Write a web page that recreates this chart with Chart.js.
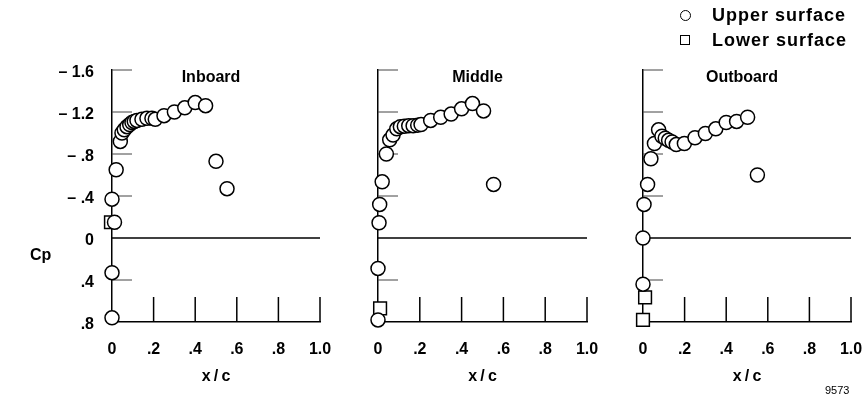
<!DOCTYPE html>
<html>
<head>
<meta charset="utf-8">
<script src="https://cdn.jsdelivr.net/npm/chart.js@4.4.1/dist/chart.umd.min.js"></script>
<style>
  body { margin: 0; background: #fff; }
  #wrap { position: relative; width: 868px; height: 398px; font-family: 'Liberation Sans', Arial, sans-serif; color: #000; }
  canvas { position: absolute; top: 0; }
  .txt { position: absolute; font-weight: bold; font-size: 16px; line-height: 20px; white-space: nowrap; }
  .leg { font-size: 18px; letter-spacing: 1px; }
  .mk { position: absolute; width: 10px; height: 10px; border: 1.5px solid #000; box-sizing: border-box; }
</style>
</head>
<body>
<div id="wrap">
  <canvas id="inboard" width="340" height="398" style="left:0px"></canvas>
  <canvas id="middle" width="265" height="398" style="left:340px"></canvas>
  <canvas id="outboard" width="263" height="398" style="left:605px"></canvas>

  <div class="mk" style="left:680px; top:10px; border-radius:50%; width:11px; height:11px"></div>
  <div class="txt leg" style="left:712px; top:5px">Upper surface</div>
  <div class="mk" style="left:680px; top:35px"></div>
  <div class="txt leg" style="left:712px; top:30px">Lower surface</div>
  <div class="txt" style="left:30px; top:245px">Cp</div>
  <div class="txt" style="left:825px; top:380px; font-weight:normal; font-size:11px">9573</div>
</div>
<script>
// axis ticks
const xTicks = [0, 0.2, 0.4, 0.6, 0.8, 1.0];
const xLabels = ['0', '.2', '.4', '.6', '.8', '1.0'];
const cpTicks = [-1.6, -1.2, -0.8, -0.4, 0, 0.4, 0.8];
const cpLabels = ['\u2013 1.6', '\u2013 1.2', '\u2013 .8', '\u2013 .4', '0', '.4', '.8'];
const panelNames = ['Inboard', 'Middle', 'Outboard'];

// Inboard
const inboardUpperX  = [0, 0, 0.012, 0, 0.02, 0.04, 0.048, 0.059, 0.072, 0.085, 0.096, 0.107, 0.12, 0.144, 0.168, 0.192, 0.208, 0.25, 0.30, 0.35, 0.40, 0.45, 0.50, 0.553];
const inboardUpperCp = [0.76, 0.33, -0.15, -0.37, -0.65, -0.92, -1.0, -1.03, -1.06, -1.08, -1.10, -1.11, -1.12, -1.13, -1.14, -1.14, -1.13, -1.165, -1.20, -1.24, -1.29, -1.26, -0.73, -0.47];
const inboardLowerX  = [-0.005];
const inboardLowerCp = [-0.15];

// Middle
const middleUpperX  = [0, 0, 0.005, 0.008, 0.02, 0.04, 0.056, 0.072, 0.09, 0.107, 0.126, 0.147, 0.168, 0.19, 0.206, 0.252, 0.30, 0.35, 0.40, 0.452, 0.505, 0.553];
const middleUpperCp = [0.78, 0.29, -0.145, -0.32, -0.535, -0.80, -0.935, -0.98, -1.04, -1.06, -1.065, -1.07, -1.07, -1.075, -1.08, -1.12, -1.15, -1.18, -1.23, -1.28, -1.21, -0.51];
const middleLowerX  = [0.01];
const middleLowerCp = [0.67];

// Outboard
const outboardUpperX  = [0, 0, 0.005, 0.022, 0.038, 0.055, 0.075, 0.091, 0.107, 0.123, 0.14, 0.16, 0.199, 0.25, 0.30, 0.35, 0.40, 0.45, 0.503, 0.55];
const outboardUpperCp = [0.44, 0.0, -0.32, -0.51, -0.755, -0.90, -1.03, -0.97, -0.95, -0.93, -0.915, -0.89, -0.90, -0.955, -0.995, -1.04, -1.10, -1.11, -1.15, -0.60];
const outboardLowerX  = [0, 0.01];
const outboardLowerCp = [0.78, 0.565];

const FONT = "'Liberation Sans', Arial, sans-serif";

function pts(xs, ys) {
  return xs.map((x, i) => ({ x: x, y: ys[i] }));
}

// zero line, inward tick marks and the panel name
const panelMarks = {
  id: 'panelMarks',
  beforeDatasetsDraw(chart, args, opts) {
    const { ctx, chartArea: a, scales: { x, y } } = chart;
    ctx.save();
    ctx.strokeStyle = '#000';
    ctx.lineWidth = 1.5;
    const y0 = y.getPixelForValue(0);
    ctx.beginPath();
    ctx.moveTo(a.left, y0);
    ctx.lineTo(x.getPixelForValue(1), y0);
    ctx.stroke();
    xTicks.slice(1).forEach(v => {
      const px = x.getPixelForValue(v);
      ctx.beginPath();
      ctx.moveTo(px, a.bottom);
      ctx.lineTo(px, a.bottom - 25);
      ctx.stroke();
    });
    ctx.lineWidth = 1;
    ctx.strokeStyle = '#444';
    [-1.6, -1.2, -0.8, -0.4, 0.4].forEach(v => {
      const py = y.getPixelForValue(v);
      ctx.beginPath();
      ctx.moveTo(a.left, py);
      ctx.lineTo(a.left + 20, py);
      ctx.stroke();
    });
    ctx.fillStyle = '#000';
    ctx.font = 'bold 16px ' + FONT;
    ctx.textAlign = 'center';
    ctx.textBaseline = 'middle';
    ctx.fillText(opts.title, (a.left + a.right) / 2 - 5, 78);
    ctx.restore();
  }
};

function makePanel(id, name, upX, upCp, loX, loCp, showY, yWidth, padRight) {
  new Chart(document.getElementById(id), {
    type: 'scatter',
    data: {
      datasets: [
        {
          label: 'Upper surface',
          data: pts(upX, upCp),
          pointStyle: 'circle',
          pointRadius: 7,
          pointBorderWidth: 1.5,
          borderColor: '#000',
          backgroundColor: '#fff',
          clip: false
        },
        {
          label: 'Lower surface',
          data: pts(loX, loCp),
          pointStyle: 'rect',
          pointRadius: 9,
          pointBorderWidth: 1.5,
          borderColor: '#000',
          backgroundColor: '#fff',
          clip: false
        }
      ]
    },
    options: {
      responsive: false,
      animation: false,
      layout: { padding: { top: 70, right: padRight, left: 0, bottom: 0 } },
      plugins: {
        legend: { display: false },
        tooltip: { enabled: false },
        panelMarks: { title: name }
      },
      scales: {
        x: {
          type: 'linear',
          min: 0,
          max: 1,
          afterBuildTicks: s => { s.ticks = xTicks.map(v => ({ value: v })); },
          afterFit: s => { s.height = 76; s.paddingLeft = 0; s.paddingRight = 0; },
          ticks: {
            callback: (v, i) => xLabels[i],
            font: { family: FONT, size: 16, weight: 'bold' },
            color: '#000',
            padding: 10,
            maxRotation: 0,
            autoSkip: false
          },
          grid: { display: false },
          border: { display: true, color: '#000', width: 1.5 },
          title: {
            display: true,
            text: 'x\u2009/\u2009c',
            font: { family: FONT, size: 16, weight: 'bold' },
            color: '#000',
            padding: { top: 12, bottom: 12 }
          }
        },
        y: {
          type: 'linear',
          reverse: true,
          min: -1.6,
          max: 0.8,
          afterBuildTicks: s => { s.ticks = cpTicks.map(v => ({ value: v })); },
          afterFit: s => { s.width = yWidth; s.paddingTop = 0; s.paddingBottom = 0; },
          ticks: {
            display: showY,
            callback: (v, i) => cpLabels[i],
            font: { family: FONT, size: 16, weight: 'bold' },
            color: '#000',
            padding: 10,
            labelOffset: 3
          },
          grid: { display: false },
          border: { display: true, color: '#000', width: 1.5 }
        }
      }
    },
    plugins: [panelMarks]
  });
}

makePanel('inboard', panelNames[0], inboardUpperX, inboardUpperCp, inboardLowerX, inboardLowerCp, true, 112, 20);
makePanel('middle', panelNames[1], middleUpperX, middleUpperCp, middleLowerX, middleLowerCp, false, 38, 18);
makePanel('outboard', panelNames[2], outboardUpperX, outboardUpperCp, outboardLowerX, outboardLowerCp, false, 38, 17);
</script>
</body>
</html>
